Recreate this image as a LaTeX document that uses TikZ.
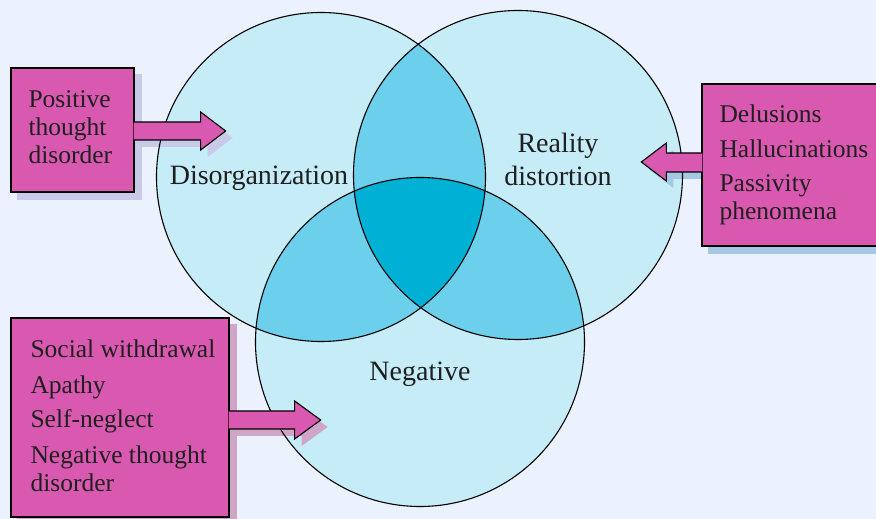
\documentclass[tikz,border=0pt]{standalone}
\usepackage{fontspec}
\setmainfont{Liberation Serif}
\usetikzlibrary{positioning}

\definecolor{pagebg}{RGB}{236,242,253}
\definecolor{ringfill}{RGB}{197,236,247}
\definecolor{pairfill}{RGB}{108,207,236}
\definecolor{corefill}{RGB}{0,177,213}
\definecolor{boxpink}{RGB}{217,89,176}
\definecolor{shadelav}{RGB}{200,202,232}
\definecolor{shadeblue}{RGB}{165,200,228}
\definecolor{shadepink}{RGB}{207,166,199}

\pgfdeclarelayer{back}
\pgfdeclarelayer{shade}
\pgfsetlayers{back,shade,main}

\newcommand{\ringr}{164.5}
\newcommand{\posarrow}{([shift={(-1,8)}]posbox.east) -- ++(67,0) -- ++(0,10) -- ++(25,-19) -- ++(-25,-19) -- ++(0,10) -- ++(-67,0)}
\newcommand{\realarrow}{([shift={(1,12)}]realbox.west) -- ++(-36,0) -- ++(0,10) -- ++(-25,-19) -- ++(25,-19) -- ++(0,9) -- ++(36,0)}
\newcommand{\negarrow}{([shift={(-1,6.5)}]negbox.east) -- ++(66,0) -- ++(0,10) -- ++(26,-19) -- ++(-26,-19) -- ++(0,10) -- ++(-66,0)}

\begin{document}
\begin{tikzpicture}[x=1pt,y=1pt,
    ring/.style={draw=black, line width=1.1pt},
    infobox/.style={draw=black, fill=boxpink, line width=1.3pt, inner sep=0pt},
    pointer/.style={draw=black, fill=boxpink, line width=1.1pt, line join=miter},
    boxtext/.style={align=left, inner sep=0pt, text=black!88, font=\fontsize{25.5}{28}\selectfont},
    ringlabel/.style={align=center, inner sep=0pt, text=black!88, font=\fontsize{28}{33}\selectfont}]
  \useasboundingbox (0,0) rectangle (876,519);

  % the three circles
  \coordinate (dis) at (321,342);
  \coordinate (rea) at (518,344);
  \coordinate (neg) at (420,177);
  \begin{pgfonlayer}{back}
    \fill[pagebg] (0,0) rectangle (876,519);
    \foreach \c in {dis,rea,neg}
      \fill[ringfill] (\c) circle[radius=\ringr];
    \begin{scope}
      \clip (dis) circle[radius=\ringr];
      \fill[pairfill] (rea) circle[radius=\ringr];
      \fill[pairfill] (neg) circle[radius=\ringr];
    \end{scope}
    \begin{scope}
      \clip (rea) circle[radius=\ringr];
      \fill[pairfill] (neg) circle[radius=\ringr];
    \end{scope}
    \begin{scope}
      \clip (dis) circle[radius=\ringr];
      \clip (rea) circle[radius=\ringr];
      \fill[corefill] (neg) circle[radius=\ringr];
    \end{scope}
  \end{pgfonlayer}
  \foreach \c in {dis,rea,neg}
    \draw[ring] (\c) circle[radius=\ringr];

  \node[ringlabel, anchor=base] (dislabel) at (259,334) {Disorganization};
  \node[ringlabel] (realabel) at (558,360) {Reality\\distortion};
  \node[ringlabel, anchor=base] (neglabel) at (420,138) {Negative};

  % boxes
  \node[infobox, minimum width=123, minimum height=124] (posbox) at (72.5,389) {};
  \node[infobox, minimum width=178, minimum height=162] (realbox) at (791,354) {};
  \node[infobox, minimum width=218, minimum height=199] (negbox) at (120,101.5) {};

  \begin{pgfonlayer}{shade}
    \begin{scope}[transform canvas={shift={(7pt,-7pt)}}]
      \fill[shadelav] (posbox.south west) rectangle (posbox.north east);
      \fill[shadelav] \posarrow;
      \fill[shadeblue] (realbox.south west) rectangle (realbox.north east);
      \fill[shadeblue] \realarrow;
      \fill[shadepink] (negbox.south west) rectangle (negbox.north east);
      \fill[shadepink] \negarrow;
    \end{scope}
  \end{pgfonlayer}

  \filldraw[pointer] \posarrow;
  \filldraw[pointer] \realarrow;
  \filldraw[pointer] \negarrow;

  \node[boxtext, right=18pt of posbox.west, yshift=3pt] (postext) {Positive\\thought\\disorder};
  \node[boxtext, right=18pt of realbox.west] (realtext)
    {Delusions\\[7pt]Hallucinations\\[6pt]Passivity\\phenomena};
  \node[boxtext, right=20pt of negbox.west, yshift=2pt] (negtext)
    {Social withdrawal\\[8pt]Apathy\\[6pt]Self-neglect\\[8pt]Negative thought\\disorder};
\end{tikzpicture}
\end{document}
